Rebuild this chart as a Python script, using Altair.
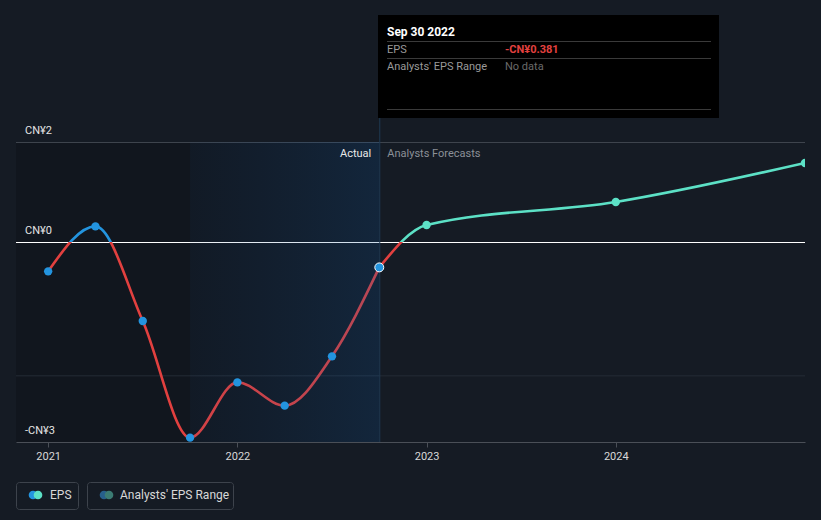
import altair as alt
import pandas as pd

# ---------------- data ----------------
actual_x = [2021.0, 2021.25, 2021.5, 2021.75, 2022.0, 2022.25, 2022.5, 2022.75]
actual_eps = [-0.44, 0.235, -1.185, -2.935, -2.105, -2.455, -1.715, -0.381]
forecast_x = [2022.75, 2023.0, 2024.0, 2025.0]
forecast_eps = [-0.381, 0.255, 0.60, 1.185]

year_ticks = [2021, 2022, 2023, 2024]
y_label_values = [1.5, 0.0, -3.0]
y_label_text = ["CN¥2", "CN¥0", "-CN¥3"]
grid_top = [1.5]
grid_mid = [-2.0]
zero_line = [0.0]

dark_region = [2020.83, 2022.75]
shade_region = [2021.75, 2022.75]
now_x = [2022.75]

X_DOMAIN = [2020.83, 2025.0]
Y_DOMAIN = [-3.0, 1.5]

# ---------------- style ----------------
BG = "#151b24"
RED = "#e2403f"
BLUE = "#2394df"
TEAL = "#5ce1c6"
FONT = "Roboto"

xs = alt.Scale(domain=X_DOMAIN, nice=False, zero=False)
ys = alt.Scale(domain=Y_DOMAIN, nice=False, zero=False)
x_axis = alt.Axis(values=year_ticks, format="d", grid=False, title=None,
                  domainColor="#4a4f57", tickColor="#4a4f57", tickSize=5,
                  labelColor="#d8d8d8", labelFont=FONT, labelFontSize=11,
                  labelPadding=3, labelFlush=False)


def X(field):
    return alt.X(field, type="quantitative", scale=xs, axis=x_axis)


def Y(field):
    return alt.Y(field, type="quantitative", scale=ys, axis=None)


act_df = pd.DataFrame({"x": actual_x, "eps": actual_eps})
fc_df = pd.DataFrame({"x": forecast_x, "eps": forecast_eps})
one = pd.DataFrame({"a": [0]})

act_zero = max(actual_eps) / (max(actual_eps) - min(actual_eps))
fc_zero = max(forecast_eps) / (max(forecast_eps) - min(forecast_eps))

dark = alt.Chart(pd.DataFrame({"x0": [dark_region[0]], "x1": [dark_region[1]]})).mark_rect(
    color="#11161e").encode(x=X("x0"), x2="x1", y=alt.value(0), y2=alt.value(300))

gtop = alt.Chart(pd.DataFrame({"v": grid_top})).mark_rule(
    color="#3e444d", strokeWidth=1, yOffset=0.5).encode(y=Y("v"))
gmid = alt.Chart(pd.DataFrame({"v": grid_mid})).mark_rule(
    color="#252c36", strokeWidth=1, yOffset=0.5).encode(y=Y("v"))
gzero = alt.Chart(pd.DataFrame({"v": zero_line})).mark_rule(
    color="#ffffff", strokeWidth=1, yOffset=0.5).encode(y=Y("v"))

act_line = alt.Chart(act_df).mark_line(
    interpolate="monotone", strokeWidth=2.6,
    stroke=alt.Gradient(gradient="linear", x1=0, x2=0, y1=0, y2=1, stops=[
        alt.GradientStop(color=BLUE, offset=0), alt.GradientStop(color=BLUE, offset=act_zero),
        alt.GradientStop(color=RED, offset=act_zero), alt.GradientStop(color=RED, offset=1)])
).encode(x=X("x"), y=Y("eps"), order="x:Q")

fc_line = alt.Chart(fc_df).mark_line(
    interpolate="monotone", strokeWidth=2.6, clip=True,
    stroke=alt.Gradient(gradient="linear", x1=0, x2=0, y1=0, y2=1, stops=[
        alt.GradientStop(color=TEAL, offset=0), alt.GradientStop(color=TEAL, offset=fc_zero),
        alt.GradientStop(color=RED, offset=fc_zero), alt.GradientStop(color=RED, offset=1)])
).encode(x=X("x"), y=Y("eps"), order="x:Q")

shade = alt.Chart(pd.DataFrame({"x0": [shade_region[0]], "x1": [shade_region[1]]})).mark_rect(
    fill=alt.Gradient(gradient="linear", x1=0, x2=1, y1=0, y2=0, stops=[
        alt.GradientStop(color="rgba(25,80,140,0.07)", offset=0),
        alt.GradientStop(color="rgba(25,95,165,0.22)", offset=1)])
).encode(x=X("x0"), x2="x1", y=alt.value(0), y2=alt.value(300))

now_rule = alt.Chart(pd.DataFrame({"x": now_x})).mark_rule(
    color="#1f3a52", strokeWidth=1, xOffset=0.5).encode(
    x=X("x"), y=alt.value(-24), y2=alt.value(300))

act_pts = alt.Chart(act_df.iloc[:-1]).mark_circle(size=70, color=BLUE, opacity=1).encode(x=X("x"), y=Y("eps"))
last_pt = alt.Chart(act_df.iloc[-1:]).mark_point(size=80, filled=True, fill=BLUE, stroke="#ffffff",
                                                  strokeWidth=1, opacity=1).encode(x=X("x"), y=Y("eps"))
fc_pts = alt.Chart(fc_df.iloc[1:]).mark_circle(size=70, color=TEAL, opacity=1, clip=True).encode(
    x=X("x"), y=Y("eps"))

ylabels = alt.Chart(pd.DataFrame({"v": y_label_values, "t": y_label_text})).mark_text(
    align="left", baseline="middle", dy=-11, font=FONT, fontSize=11, color="#e4e4e4").encode(
    x=alt.value(9), y=Y("v"), text="t:N")

actual_lbl = alt.Chart(pd.DataFrame({"x": now_x, "t": ["Actual"]})).mark_text(
    align="right", baseline="middle", dx=-8, font=FONT, fontSize=11, color="#e8e8e8").encode(
    x=X("x"), y=alt.value(12), text="t:N")
fc_lbl = alt.Chart(pd.DataFrame({"x": now_x, "t": ["Analysts Forecasts"]})).mark_text(
    align="left", baseline="middle", dx=8, font=FONT, fontSize=11, color="#8b9097").encode(
    x=X("x"), y=alt.value(12), text="t:N")

# ---------------- tooltip box ----------------
tip_box = alt.Chart(one).mark_rect(color="#000000").encode(
    x=alt.value(362), x2=alt.value(703), y=alt.value(-127), y2=alt.value(-24))
tip_lines = alt.Chart(pd.DataFrame({"y": [-101, -84, -33]})).mark_rule(
    color="#3a3a3a", yOffset=0.5).encode(
    x=alt.value(371), x2=alt.value(695), y=alt.Y("y:Q", scale=None))


def txt(s, x, y, color, weight="normal", size=11):
    return alt.Chart(one).mark_text(text=s, align="left", baseline="middle", font=FONT,
                                    fontSize=size, fontWeight=weight, color=color).encode(
        x=alt.value(x), y=alt.value(y))


tip_texts = [
    txt("Sep 30 2022", 371, -110, "#ffffff", "bold", 12),
    txt("EPS", 371, -92, "#9a9a9a"),
    txt("-CN¥0.381", 489, -92, RED, "bold"),
    txt("Analysts' EPS Range", 371, -75, "#9a9a9a"),
    txt("No data", 489, -75, "#6a6a6a"),
]

# ---------------- legend ----------------
leg_boxes = alt.Chart(pd.DataFrame({"x0": [0.5, 71.5], "x1": [62.5, 217.5]})).mark_rect(
    fill=BG, stroke="#3d434c", strokeWidth=1, cornerRadius=3).encode(
    x=alt.X("x0:Q", scale=None), x2="x1:Q", y=alt.value(340.5), y2=alt.value(367.5))


def dot(x, color):
    return alt.Chart(one).mark_circle(size=75, color=color, opacity=1).encode(
        x=alt.value(x), y=alt.value(353))


legend = [
    leg_boxes,
    dot(17, BLUE), dot(22, TEAL),
    txt("EPS", 34, 353, "#d8d8d8", size=12),
    dot(88, "#275f8c"), dot(93, "#3b7b73"),
    txt("Analysts' EPS Range", 104, 353, "#d8d8d8", size=12),
]

chart = alt.layer(
    dark, gtop, gmid, gzero, act_line, fc_line, shade, now_rule,
    act_pts, last_pt, fc_pts, ylabels, actual_lbl, fc_lbl,
    tip_box, tip_lines, *tip_texts, *legend
).properties(
    width=789, height=300,
    autosize=alt.AutoSizeParams(type="none"),
    padding={"left": 16, "top": 142, "right": 16, "bottom": 78},
    background=BG,
).configure(font=FONT, view=alt.ViewConfig(stroke=None))

chart.save("out.html", embed_options={"renderer": "svg", "actions": False})
